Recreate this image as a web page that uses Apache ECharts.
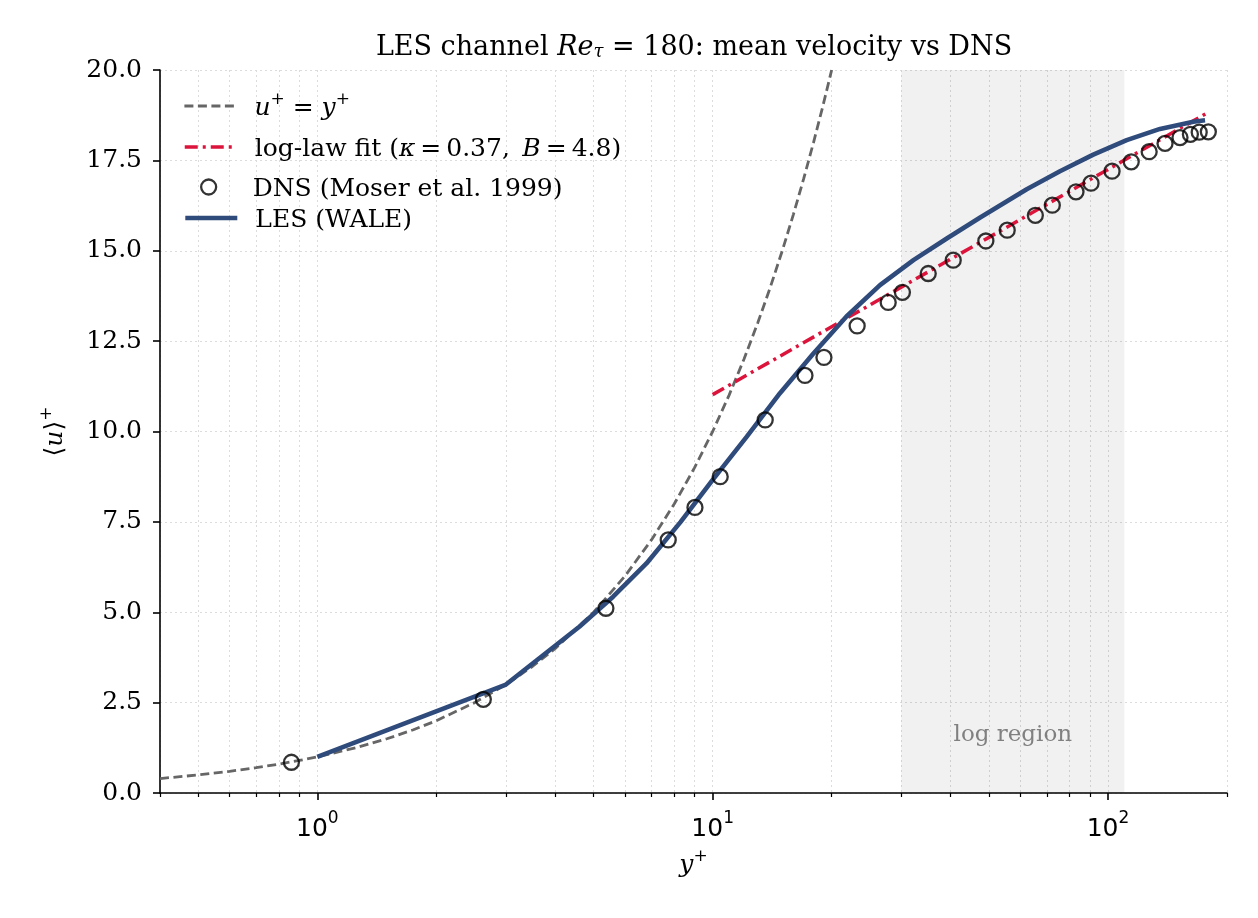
<!DOCTYPE html>
<html>
<head>
<meta charset="utf-8">
<script src="https://cdn.jsdelivr.net/npm/echarts@6/dist/echarts.min.js"></script>
<style>
html,body{margin:0;padding:0;background:#fff}
#main{width:1258px;height:918px}
</style>
</head>
<body>
<div id="main"></div>
<script>
// axis ticks
var majorTicks = [1, 10, 100];
var minorTicks = [0.4, 0.5, 0.6, 0.7, 0.8, 0.9, 2, 3, 4, 5, 6, 7, 8, 9, 20, 30, 40, 50, 60, 70, 80, 90, 200];

// u+ = y+ (viscous sublayer)
var viscY = [0.4, 0.5, 0.6, 0.7, 0.8, 0.9, 1, 1.25, 1.5, 1.75, 2, 2.5, 3, 3.5, 4, 5, 6, 7, 8, 9, 10, 11, 12, 13, 14, 15, 16, 17, 18, 19, 20];
var viscU = [0.4, 0.5, 0.6, 0.7, 0.8, 0.9, 1, 1.25, 1.5, 1.75, 2, 2.5, 3, 3.5, 4, 5, 6, 7, 8, 9, 10, 11, 12, 13, 14, 15, 16, 17, 18, 19, 20];

// log-law fit
var logY = [10, 20, 50, 100, 180];
var logU = [11.02, 12.90, 15.37, 17.25, 18.84];

// DNS (Moser et al. 1999)
var dnsY = [0.86, 2.63, 5.37, 7.72, 9.02, 10.45, 13.58, 17.12, 19.12, 23.2, 27.8, 30.2, 35.1, 40.6, 49.1, 55.6, 65.5, 72.3, 83.0, 90.6, 102.4, 114.5, 127.1, 139.4, 152.1, 161.6, 170.1, 179.4];
var dnsU = [0.85, 2.59, 5.11, 7.00, 7.90, 8.75, 10.32, 11.55, 12.05, 12.92, 13.57, 13.85, 14.37, 14.74, 15.27, 15.57, 15.98, 16.26, 16.63, 16.87, 17.20, 17.46, 17.74, 17.97, 18.13, 18.22, 18.28, 18.29];

// LES (WALE)
var lesY = [1.0, 3.0, 4.6, 5.6, 6.8, 8.3, 10.0, 12.2, 14.8, 17.96, 21.8, 26.5, 32.2, 39.1, 47.5, 62.3, 75.6, 91.8, 111.5, 135.4, 164.4, 176];
var lesU = [1.0, 3.0, 4.6, 5.43, 6.35, 7.5, 8.66, 9.86, 11.06, 12.15, 13.18, 14.05, 14.74, 15.34, 15.92, 16.70, 17.20, 17.66, 18.06, 18.37, 18.57, 18.61];

// shaded log region
var logRegion = [30, 110];

function zip(a, b) {
    return a.map(function (v, i) { return [v, b[i]]; });
}

var serif = "'DejaVu Serif', serif";
var gridColor = '#dcdcdc';

var mathRich = {
    t: {fontFamily: serif, fontSize: 25, color: '#000', lineHeight: 30, verticalAlign: 'bottom'},
    i: {fontFamily: serif, fontSize: 25, fontStyle: 'italic', color: '#000', lineHeight: 30, verticalAlign: 'bottom'},
    sup: {fontFamily: serif, fontSize: 17, color: '#000', lineHeight: 17, verticalAlign: 'top'},
    g: {width: 13}
};

var legendNames = {
    'u+ = y+': '{g|}{i|u}{sup|+}{t| = }{i|y}{sup|+}',
    'log-law fit': '{g|}{t|log-law fit (}{i|κ}{t|\u2009=\u20090.37,\u2002}{i|B}{t|\u2009=\u20094.8)}',
    'DNS (Moser et al. 1999)': '{g|}{t|DNS (Moser et al. 1999)}',
    'LES (WALE)': '{g|}{t|LES (WALE)}'
};
var legendRows = [106, 152, 192, 223];

function makeLegend(name, row, left, h, extra) {
    return Object.assign({
        data: [name],
        left: left,
        top: row - 15,
        padding: 0,
        itemWidth: 52,
        itemHeight: h,
        selectedMode: false,
        formatter: function (n) { return legendNames[n]; },
        textStyle: {rich: mathRich}
    }, extra);
}

var chart = echarts.init(document.getElementById('main'));
var xBase = {type: 'log', logBase: 10, min: 0.4, max: 200, position: 'bottom'};

option = {
    animation: false,
    backgroundColor: '#fff',
    title: {
        text: '{t|LES channel }{i|Re}{s|τ}{t| = 180: mean velocity vs DNS}',
        left: 694,
        top: 27,
        padding: 0,
        textAlign: 'center',
        textStyle: {
            fontWeight: 'normal',
            rich: {
                t: {fontFamily: serif, fontSize: 27, fontWeight: 'normal', color: '#000', lineHeight: 34, verticalAlign: 'bottom'},
                i: {fontFamily: serif, fontSize: 27, fontWeight: 'normal', fontStyle: 'italic', color: '#000', lineHeight: 34, verticalAlign: 'bottom'},
                s: {fontFamily: serif, fontSize: 18, fontWeight: 'normal', fontStyle: 'italic', color: '#000', lineHeight: 21, verticalAlign: 'bottom'}
            }
        }
    },
    grid: {left: 160, right: 31, top: 70, bottom: 125, containLabel: false},
    legend: [
        makeLegend('u+ = y+', legendRows[0], 183, 14, {itemStyle: {opacity: 0}, lineStyle: {width: 2.8}}),
        makeLegend('log-law fit', legendRows[1], 183, 14, {itemStyle: {opacity: 0}, lineStyle: {width: 3.5}}),
        makeLegend('DNS (Moser et al. 1999)', legendRows[2], 200, 15, {
            itemStyle: {color: 'rgba(255,255,255,0)', borderColor: '#000', borderWidth: 2.3}
        }),
        makeLegend('LES (WALE)', legendRows[3], 183, 14, {itemStyle: {opacity: 0}, lineStyle: {width: 4.6}})
    ],
    xAxis: [
        Object.assign({}, xBase, {
            axisLine: {show: true, onZero: false, lineStyle: {color: '#000', width: 1.6}},
            axisTick: {show: true, length: 7, customValues: majorTicks, lineStyle: {color: '#000', width: 1.6}},
            axisLabel: {
                customValues: majorTicks,
                margin: 17,
                formatter: function (v) {
                    return '{b|10}{e|' + Math.round(Math.log10(v)) + '}';
                },
                rich: {
                    b: {fontFamily: "'DejaVu Sans', sans-serif", fontSize: 25, color: '#000', lineHeight: 32, verticalAlign: 'bottom'},
                    e: {fontFamily: "'DejaVu Sans', sans-serif", fontSize: 17, color: '#000', lineHeight: 17, verticalAlign: 'top'}
                }
            },
            splitLine: {show: true, lineStyle: {color: gridColor, width: 1, type: [2, 3]}},
            name: '{i|y}{sup|+}',
            nameLocation: 'middle',
            nameGap: 55,
            nameTextStyle: {rich: mathRich}
        }),
        Object.assign({}, xBase, {
            axisLine: {show: false},
            axisLabel: {show: false},
            axisTick: {show: true, length: 4, customValues: minorTicks, lineStyle: {color: '#000', width: 1.2}},
            splitLine: {show: true, lineStyle: {color: gridColor, width: 1, type: [2, 3]}}
        })
    ],
    yAxis: {
        type: 'value',
        min: 0,
        max: 20,
        interval: 2.5,
        axisLine: {show: true, onZero: false, lineStyle: {color: '#000', width: 1.6}},
        axisTick: {show: true, length: 7, lineStyle: {color: '#000', width: 1.6}},
        axisLabel: {
            margin: 18,
            color: '#000',
            fontFamily: serif,
            fontSize: 25,
            formatter: function (v) { return v.toFixed(1); }
        },
        splitLine: {show: true, lineStyle: {color: gridColor, width: 1, type: [2, 3]}},
        name: '{t|⟨}{i|u}{t|⟩}{sup|+}',
        nameLocation: 'middle',
        nameRotate: 90,
        nameGap: 92,
        nameTextStyle: {rich: mathRich}
    },
    series: [
        {
            name: 'u+ = y+',
            type: 'line',
            xAxisIndex: 0,
            data: zip(viscY, viscU),
            symbol: 'none',
            z: 2,
            lineStyle: {color: '#666666', width: 2.8, type: [9, 4.5]},
            itemStyle: {color: '#666666'},
            markArea: {
                silent: true,
                itemStyle: {color: 'rgba(0,0,0,0.055)'},
                label: {
                    show: true,
                    position: 'insideBottom',
                    distance: 46,
                    color: '#808080',
                    fontFamily: serif,
                    fontSize: 23,
                    formatter: 'log region'
                },
                data: [[{xAxis: logRegion[0]}, {xAxis: logRegion[1]}]]
            }
        },
        {
            name: 'log-law fit',
            type: 'line',
            xAxisIndex: 0,
            data: zip(logY, logU),
            symbol: 'none',
            z: 3,
            lineStyle: {color: '#dc143c', width: 3.5, type: [13, 5, 3, 5]},
            itemStyle: {color: '#dc143c'}
        },
        {
            name: 'LES (WALE)',
            type: 'line',
            xAxisIndex: 0,
            data: zip(lesY, lesU),
            symbol: 'none',
            z: 4,
            lineStyle: {color: '#2f4b7c', width: 4.6},
            itemStyle: {color: '#2f4b7c'}
        },
        {
            name: 'DNS (Moser et al. 1999)',
            type: 'scatter',
            xAxisIndex: 0,
            data: zip(dnsY, dnsU),
            symbol: 'circle',
            symbolSize: 15,
            z: 5,
            itemStyle: {color: 'rgba(255,255,255,0)', borderColor: '#000', borderWidth: 2.3}
        }
    ]
};

chart.setOption(option);
window.addEventListener('resize', function () {
    chart.resize();
});
</script>
</body>
</html>
